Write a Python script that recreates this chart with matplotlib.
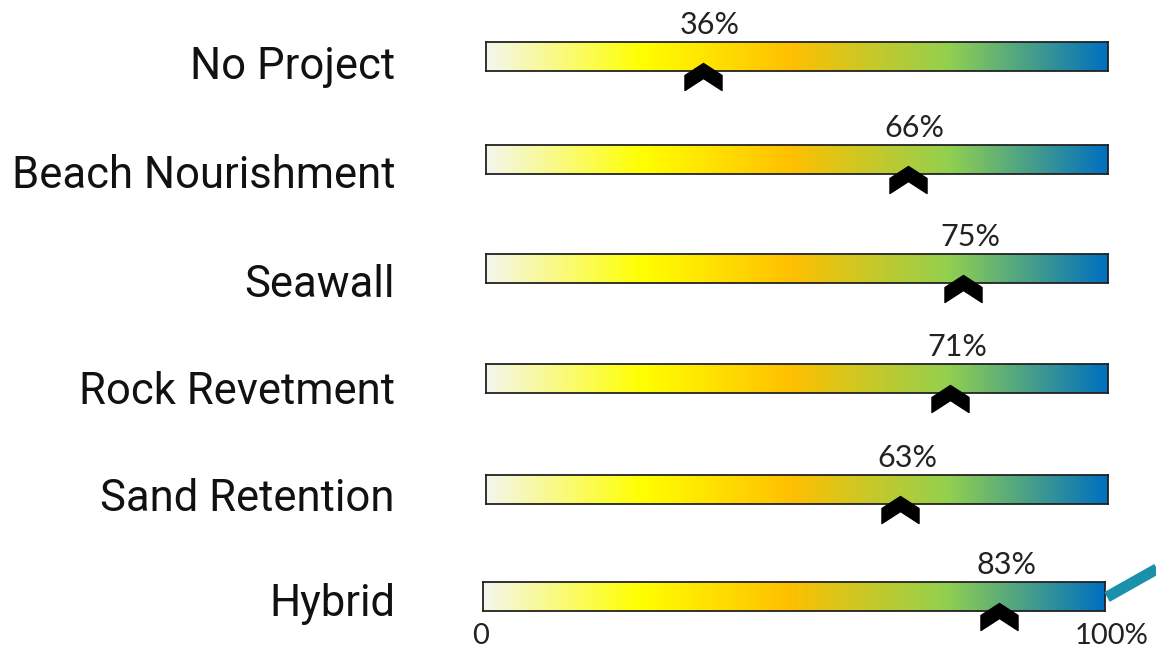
import numpy as np
import matplotlib.pyplot as plt
from matplotlib.colors import LinearSegmentedColormap
from matplotlib.path import Path
from matplotlib.lines import Line2D

options = ["No Project", "Beach Nourishment", "Seawall", "Rock Revetment", "Sand Retention", "Hybrid"]
scores = [36, 66, 75, 71, 63, 83]
# where each arrow actually sits on the 0-100 scale
arrow_at = [34.9, 67.8, 76.7, 74.6, 66.6, 83.0]
scale_labels = ["0", "100%"]

W, H = 1156, 649
fig = plt.figure(figsize=(W / 100, H / 100), dpi=100)

# layout in pixels
bar_top = [42, 145, 254, 364, 475, 582]
bar_left = [486, 486, 486, 486, 486, 483]
bar_w, bar_h = 622, 29
label_base = [79, 188, 297, 404, 511, 616]

cmap = LinearSegmentedColormap.from_list(
    "score", [(0, "#f4f6ee"), (0.25, "#ffff00"), (0.49, "#ffc000"),
              (0.745, "#92d050"), (1, "#0070c0")])
grad = np.linspace(0, 1, 512)[None, :]

# chevron marker, origin on the bar's lower edge (pixels, y up)
verts = [(0, 8), (18.5, -4), (18.5, -19), (0, -7), (-18.5, -19), (-18.5, -4), (0, 8)]
codes = [Path.MOVETO] + [Path.LINETO] * 5 + [Path.CLOSEPOLY]
chevron = Path(verts, codes)

for i, name in enumerate(options):
    ax = fig.add_axes([bar_left[i] / W, 1 - (bar_top[i] + bar_h) / H, bar_w / W, bar_h / H])
    ax.imshow(grad, cmap=cmap, aspect="auto", extent=[0, 100, 0, 1])
    ax.set_xlim(0, 100)
    ax.set_ylim(0, 1)
    ax.set_xticks([])
    ax.set_yticks([])
    for sp in ax.spines.values():
        sp.set_linewidth(1.3)
        sp.set_color("#222222")
    ax.plot(arrow_at[i], 0, marker=chevron, ms=27.4, color="black",
            clip_on=False, zorder=5)
    ax.annotate(f"{scores[i]}%", xy=(arrow_at[i], 1), xytext=(5, 2),
                textcoords="offset points", ha="center", va="bottom",
                fontsize=22, family="Lato", color="#222222")
    fig.text(395 / W, 1 - label_base[i] / H, name, ha="right", va="baseline",
             fontsize=31.4, family="Roboto", color="#111111")
    if i == len(options) - 1:
        ax.annotate(scale_labels[0], xy=(0, 0), xytext=(-2, -9), textcoords="offset points",
                    ha="center", va="top", fontsize=21, family="Lato", color="#222222")
        ax.annotate(scale_labels[1], xy=(100, 0), xytext=(5, -9), textcoords="offset points",
                    ha="center", va="top", fontsize=21, family="Lato", color="#222222")

# teal connector running off the right edge
fig.add_artist(Line2D([1107 / W, 1162 / W], [1 - 597 / H, 1 - 566 / H],
                      color="#1b90aa", lw=8, solid_capstyle="butt"))

fig.savefig("out.png", dpi=100)
